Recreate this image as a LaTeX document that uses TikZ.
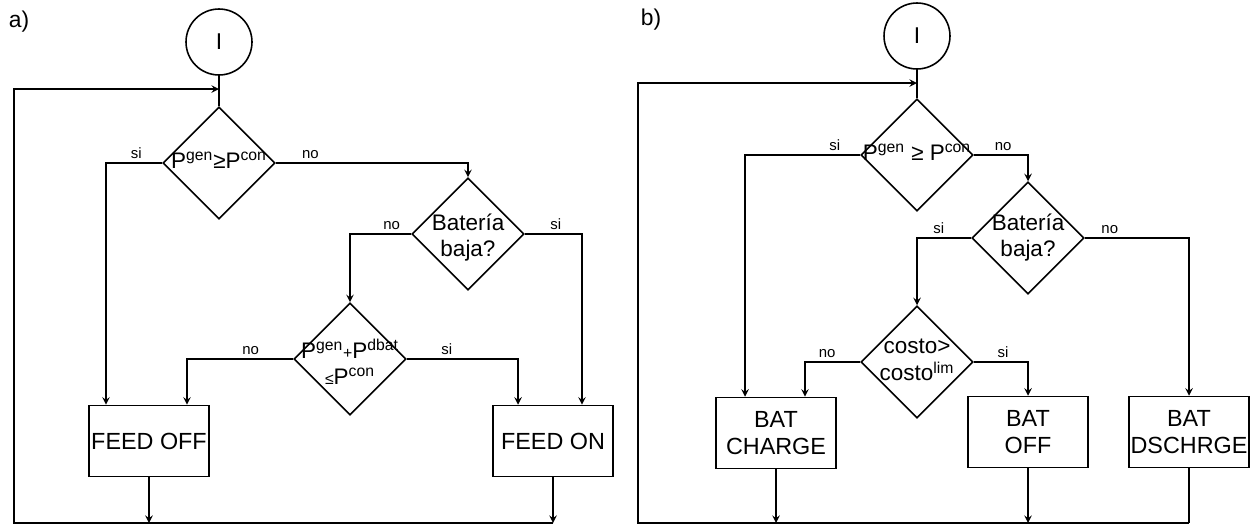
\documentclass[tikz,border=0pt]{standalone}
\usepackage{fontspec}
\setmainfont{Liberation Sans}
\usetikzlibrary{shapes.geometric}

% text of a decision, kept from widening the diamond
\newcommand{\dtext}[1]{\makebox[0pt]{\begin{tabular}{@{}c@{}}#1\end{tabular}}}
\newcommand{\chico}{\fontsize{9}{10}\selectfont}

\tikzset{
  dec/.style={draw, diamond, minimum size=2.24cm, inner sep=0pt, font=\fontsize{12.8}{15}\selectfont},
  bloque/.style={draw, rectangle, minimum width=2.4cm, minimum height=1.42cm, inner sep=0pt, align=center, font=\fontsize{13.3}{15.5}\selectfont},
  inicio/.style={draw, circle, minimum size=1.32cm, inner sep=0pt, font=\fontsize{13}{15}\selectfont},
  rot/.style={above, inner sep=1pt, yshift=1pt, font=\fontsize{8.5}{10}\selectfont},
  tag/.style={font=\fontsize{13}{15}\selectfont},
}

\begin{document}
\begin{tikzpicture}[>=stealth, x=0.02cm, y=-0.02cm, line width=0.9pt]
    \useasboundingbox (0,0) rectangle (1251,525);
    % a)
    \node[tag] (taga) at (19,22) {a)};
    \node[inicio] (ia) at (219,42) {I};
    \node[dec] (pa) at (219,163) {\dtext{P\textsuperscript{gen}≥P\textsuperscript{con}}};
    \node[dec] (ba) at (468,234) {\dtext{\raisebox{-3pt}{Batería}\\\raisebox{-3pt}{baja?}}};
    \node[dec] (ca) at (350,359) {\dtext{\raisebox{-4pt}{P\textsuperscript{gen}{\chico+}P\textsuperscript{dbat}}\\\raisebox{-4pt}{{\chico≤}P\textsuperscript{con}}}};
    \node[bloque] (offa) at (149,441) {FEED OFF};
    \node[bloque] (ona) at (553,441) {FEED ON};
    \coordinate (ja) at (219,89);
    \coordinate (za) at (14,523);
    \draw (ia) -- (pa);
    \draw[->] (pa.west) -| node[rot,pos=0.23]{si} ([xshift=-0.86cm]offa.north);
    \draw[->] (pa.east) -| node[rot,pos=0.09]{no} (ba.north);
    \draw[->] (ba.west) -| node[rot,pos=0.16]{no} (ca.north);
    \draw[->] (ba.east) -| node[rot,pos=0.27]{si} ([xshift=0.58cm]ona.north);
    \draw[->] (ca.west) -| node[rot,pos=0.2]{no} ([xshift=0.76cm]offa.north);
    \draw[->] (ca.east) -| node[rot,pos=0.18]{si} ([xshift=-0.7cm]ona.north);
    \draw[->] (offa) -- (offa |- za);
    \draw[->] (ona) -- (ona |- za);
    \draw[->] (ona |- za) -- (za) |- (ja);
    % b)
    \node[tag] (tagb) at (651,20) {b)};
    \node[inicio] (ib) at (917,36) {I};
    \node[dec] (pb) at (917,155) {\dtext{P\textsuperscript{gen} ≥ P\textsuperscript{con}}};
    \node[dec] (bb) at (1028,238) {\dtext{Batería\\baja?}};
    \node[dec] (cb) at (917,362) {\dtext{costo>\\costo\textsuperscript{lim}}};
    \node[bloque] (chgb) at (776,433) {BAT\\CHARGE};
    \node[bloque] (offb) at (1028,432) {BAT\\OFF};
    \node[bloque] (disb) at (1189,432) {BAT\\DSCHRGE};
    \coordinate (jb) at (917,83);
    \coordinate (zb) at (638,523);
    \draw (ib) -- (pb);
    \draw[->] (pb.west) -| node[rot,pos=0.11]{si} ([xshift=-0.62cm]chgb.north);
    \draw[->] (pb.east) -| node[rot,pos=0.27]{no} (bb.north);
    \draw[->] (bb.west) -| node[rot,pos=0.3]{si} (cb.north);
    \draw[->] (bb.east) -| node[rot,pos=0.12]{no} (disb.north);
    \draw[->] (cb.west) -| node[rot,pos=0.3]{no} ([xshift=0.58cm]chgb.north);
    \draw[->] (cb.east) -| node[rot,pos=0.27]{si} (offb.north);
    \draw[->] (chgb) -- (chgb |- zb);
    \draw[->] (offb) -- (offb |- zb);
    \draw (disb) -- (disb |- zb);
    \draw[->] (disb |- zb) -- (zb) |- (jb);
\end{tikzpicture}
\end{document}
